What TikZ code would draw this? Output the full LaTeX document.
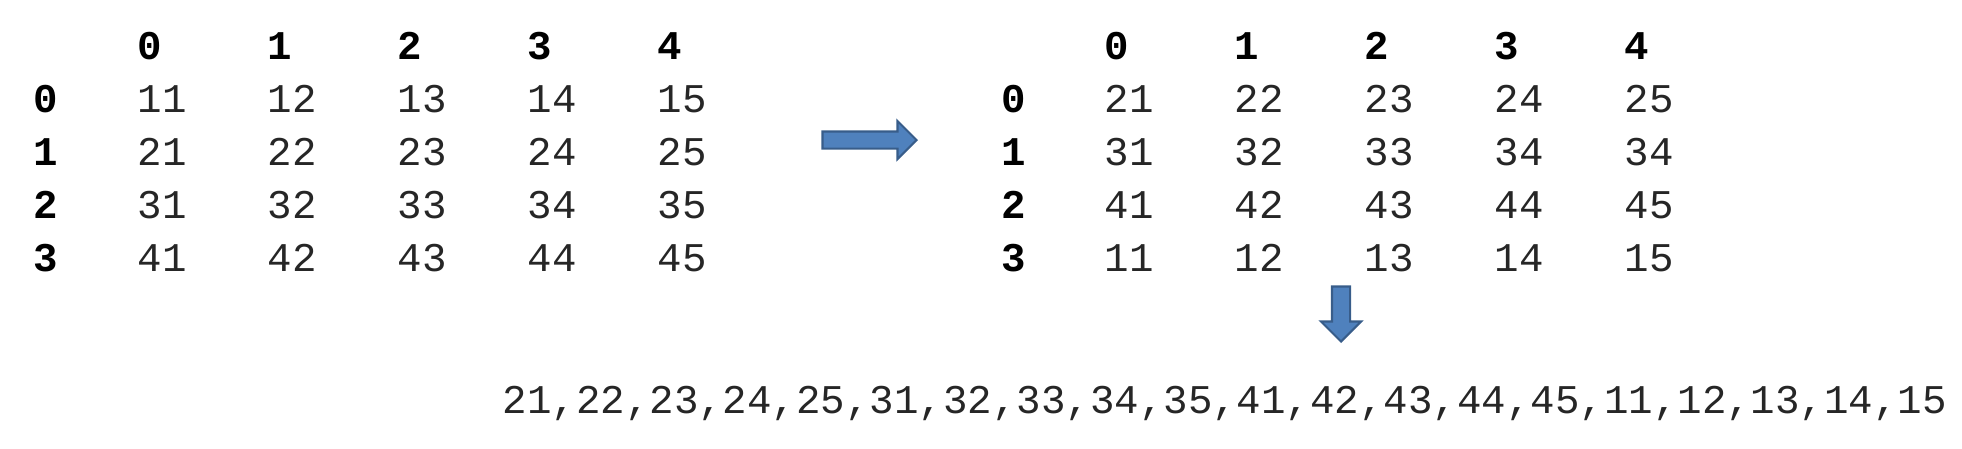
\documentclass[tikz,border=0pt]{standalone}
\usepackage{fontspec}
\usepackage{tikz}
\usetikzlibrary{shapes.arrows}
\newfontfamily\cellfont{Liberation Mono}
\definecolor{arrowfill}{RGB}{79, 129, 189}
\definecolor{arrowline}{RGB}{56, 93, 138}
\tikzset{
  cell/.style={anchor=base west, inner sep=0pt, text=black!85,
    font=\cellfont\fontsize{11.6}{14}\selectfont},
  label/.style={cell, text=black, font=\cellfont\bfseries\fontsize{11.6}{14}\selectfont},
  blockarrow/.style={single arrow, single arrow tip angle=90, fill=arrowfill,
    draw=arrowline, line width=0.6pt, anchor=tip}
}

\begin{document}
\begin{tikzpicture}[x=0.01cm, y=-0.01cm]
  \useasboundingbox (0, 0) rectangle (1962, 448);

  \foreach \c in {0, 1, 2, 3, 4} {
    \node[label] (lh-\c) at ({137 + 130 * \c}, 59) {\c};
    \node[label] (rh-\c) at ({1104 + 130 * \c}, 59) {\c};
  }
  \foreach \r in {0, 1, 2, 3} {
    \node[label] (lrow-\r) at (33, {112 + 53 * \r}) {\r};
    \node[label] (rrow-\r) at (1001, {112 + 53 * \r}) {\r};
  }

  \foreach \r/\vals in {0/{11, 12, 13, 14, 15}, 1/{21, 22, 23, 24, 25},
                        2/{31, 32, 33, 34, 35}, 3/{41, 42, 43, 44, 45}} {
    \foreach \v [count=\c from 0] in \vals {
      \node[cell] (l-\r-\c) at ({137 + 130 * \c}, {112 + 53 * \r}) {\v};
    }
  }
  \foreach \r/\vals in {0/{21, 22, 23, 24, 25}, 1/{31, 32, 33, 34, 34},
                        2/{41, 42, 43, 44, 45}, 3/{11, 12, 13, 14, 15}} {
    \foreach \v [count=\c from 0] in \vals {
      \node[cell] (r-\r-\c) at ({1104 + 130 * \c}, {112 + 53 * \r}) {\v};
    }
  }

  \node[blockarrow, minimum height=0.94cm, inner sep=0.075cm,
    single arrow head extend=0.105cm] (toright) at (918, 140) {};
  \node[blockarrow, shape border rotate=270, minimum height=0.55cm, inner sep=0.08cm,
    single arrow head extend=0.11cm] (todown) at (1341, 343) {};

  \node[cell] (flat) at (502, 413)
    {21,22,23,24,25,31,32,33,34,35,41,42,43,44,45,11,12,13,14,15};
\end{tikzpicture}
\end{document}
